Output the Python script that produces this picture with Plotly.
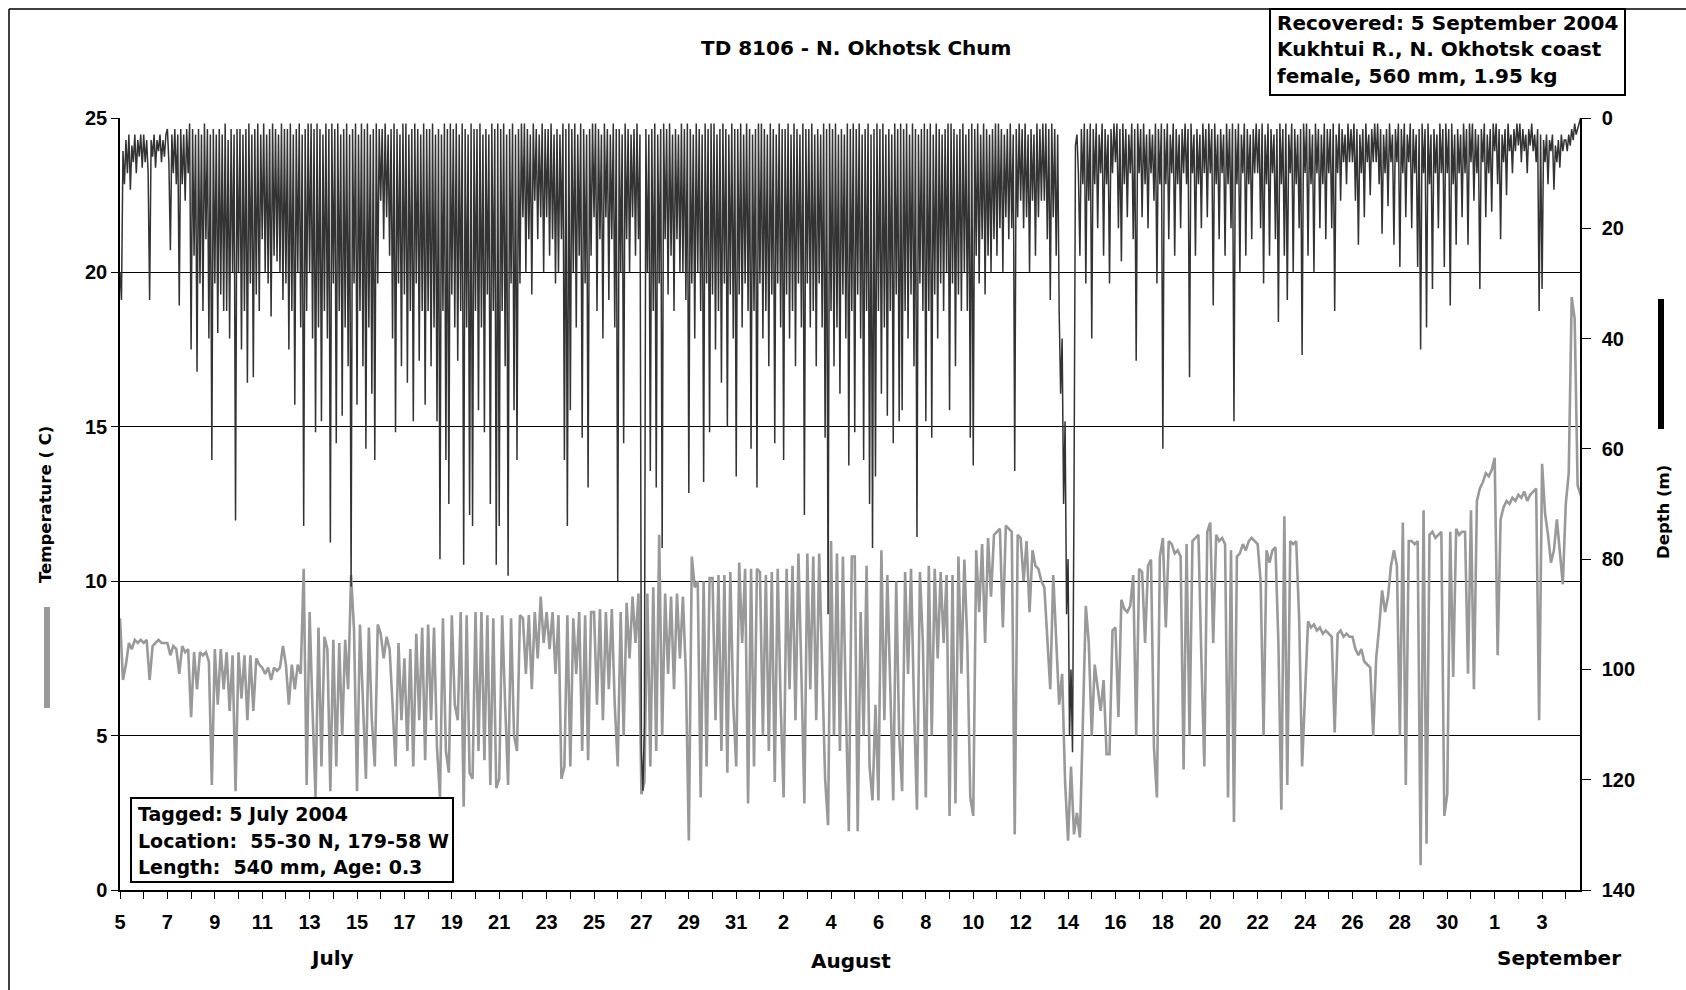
import plotly.graph_objects as go

# ---------------- data (day 0 = 5 July 2004) -------------
DEPTH_PER_DAY = 16   # 90-min readings
TEMP_PER_DAY = 8     # 3-h readings

depth_july = [  # metres, 5..31 July
    28, 33, 6, 12, 4, 10, 3, 13, 5, 8, 3, 10, 4, 7, 3, 9,
    3, 8, 4, 10, 33, 4, 7, 3, 9, 4, 6, 3, 8, 4, 7, 3,
    2, 8, 24, 3, 10, 2, 12, 3, 34, 2, 12, 3, 15, 2, 10, 1,
    42, 2, 25, 3, 46, 2, 30, 3, 35, 1, 22, 2, 40, 3, 62, 2,
    30, 3, 39, 2, 32, 3, 35, 1, 35, 4, 40, 2, 28, 3, 73, 2,
    28, 2, 42, 3, 35, 2, 48, 1, 30, 3, 47, 2, 32, 1, 35, 3,
    22, 1, 28, 3, 30, 2, 36, 1, 25, 2, 26, 3, 28, 1, 33, 2,
    30, 2, 42, 1, 35, 3, 52, 2, 28, 1, 38, 3, 74, 2, 35, 1,
    28, 1, 40, 2, 57, 1, 38, 2, 55, 3, 35, 1, 40, 2, 77, 1,
    30, 2, 59, 1, 35, 3, 54, 2, 38, 1, 45, 3, 85, 2, 30, 1,
    52, 3, 35, 1, 45, 2, 60, 1, 38, 3, 50, 2, 62, 1, 30, 2,
    15, 2, 22, 1, 18, 3, 25, 2, 40, 1, 57, 2, 30, 3, 45, 1,
    32, 1, 48, 3, 35, 2, 55, 1, 30, 2, 44, 3, 35, 1, 52, 2,
    35, 2, 45, 1, 38, 3, 55, 2, 80, 3, 35, 1, 62, 2, 70, 1,
    32, 2, 38, 1, 44, 3, 35, 1, 81, 2, 38, 3, 72, 1, 74, 2,
    35, 2, 53, 1, 38, 3, 57, 2, 32, 3, 70, 1, 35, 2, 81, 1,
    74, 2, 35, 1, 45, 3, 83, 2, 30, 1, 53, 3, 62, 2, 30, 1,
    18, 1, 28, 2, 22, 3, 32, 1, 15, 2, 22, 3, 18, 1, 28, 2,
    18, 2, 25, 1, 22, 3, 30, 2, 28, 3, 22, 1, 62, 2, 74, 1,
    53, 2, 28, 1, 38, 3, 25, 1, 58, 2, 30, 3, 67, 2, 25, 1,
    18, 1, 35, 2, 22, 3, 40, 1, 18, 2, 33, 3, 22, 1, 38, 2,
    84, 2, 28, 3, 59, 1, 22, 2, 28, 3, 18, 2, 25, 1, 22, 3,
    115, 122, 110, 2, 28, 3, 64, 2, 35, 1, 67, 3, 30, 2, 78, 1,
    22, 2, 32, 1, 25, 3, 35, 2, 22, 3, 28, 1, 28, 2, 33, 1,
    68, 2, 30, 3, 40, 1, 28, 2, 35, 3, 66, 1, 30, 2, 57, 1,
    32, 1, 42, 3, 35, 2, 48, 1, 30, 2, 56, 3, 32, 1, 40, 2,
    65, 2, 32, 1, 38, 3, 30, 1, 35, 2, 60, 3, 35, 2, 67, 1,
]
depth_august = [  # metres, 1..31 August
    30, 1, 40, 2, 35, 3, 45, 1, 32, 2, 59, 3, 30, 1, 38, 2,
    62, 2, 32, 1, 40, 3, 35, 1, 45, 2, 30, 3, 38, 1, 72, 2,
    30, 2, 38, 1, 35, 3, 45, 2, 30, 3, 38, 1, 58, 2, 90, 1,
    35, 2, 45, 1, 38, 3, 50, 2, 32, 3, 40, 1, 63, 2, 35, 1,
    57, 2, 32, 1, 40, 3, 62, 2, 35, 1, 70, 3, 78, 2, 65, 1,
    35, 2, 50, 1, 38, 3, 54, 2, 35, 3, 59, 1, 32, 2, 55, 1,
    53, 2, 35, 1, 40, 3, 32, 1, 45, 2, 76, 3, 30, 2, 35, 1,
    55, 2, 35, 1, 58, 3, 32, 1, 40, 2, 30, 3, 35, 2, 28, 1,
    53, 1, 30, 2, 45, 3, 32, 2, 35, 1, 28, 3, 35, 2, 58, 1,
    63, 2, 25, 1, 30, 3, 22, 1, 32, 2, 25, 3, 28, 2, 22, 1,
    25, 1, 20, 2, 28, 3, 18, 2, 22, 1, 20, 3, 64, 2, 18, 1,
    15, 2, 20, 1, 18, 3, 28, 2, 15, 3, 25, 1, 18, 2, 15, 1,
    15, 1, 22, 2, 33, 1, 18, 2, 25, 3, 35, 50, 40, 70, 55, 90,
    80, 112, 100, 115, 70, 5, 3, 10, 25, 2, 12, 1, 30, 2, 15, 1,
    40, 2, 12, 1, 20, 3, 10, 1, 25, 2, 12, 3, 30, 2, 10, 1,
    8, 1, 20, 2, 26, 1, 12, 2, 18, 3, 10, 1, 22, 2, 44, 1,
    10, 2, 18, 1, 12, 3, 20, 2, 10, 3, 15, 1, 30, 2, 12, 1,
    60, 2, 12, 1, 22, 3, 10, 1, 25, 2, 12, 3, 20, 2, 10, 1,
    12, 2, 47, 1, 10, 3, 25, 2, 12, 3, 20, 1, 10, 2, 18, 1,
    10, 2, 34, 1, 12, 3, 22, 2, 10, 3, 25, 1, 12, 2, 20, 1,
    55, 2, 12, 1, 28, 3, 10, 1, 25, 2, 12, 3, 22, 2, 10, 1,
    10, 2, 20, 1, 30, 3, 12, 1, 25, 2, 10, 3, 22, 2, 37, 1,
    12, 2, 25, 1, 33, 3, 10, 1, 28, 2, 12, 3, 20, 2, 43, 1,
    10, 1, 25, 2, 12, 3, 28, 1, 10, 2, 20, 3, 12, 1, 22, 2,
    10, 2, 20, 1, 35, 3, 10, 1, 15, 2, 8, 3, 12, 1, 8, 2,
    8, 1, 15, 2, 23, 3, 10, 2, 18, 1, 8, 3, 14, 2, 8, 1,
    8, 1, 12, 2, 21, 3, 10, 2, 16, 1, 8, 3, 23, 2, 8, 1,
    27, 2, 10, 1, 18, 3, 8, 1, 20, 2, 10, 3, 27, 2, 42, 1,
    10, 2, 38, 1, 12, 3, 31, 2, 10, 3, 20, 1, 10, 2, 27, 1,
    10, 2, 34, 1, 12, 3, 23, 2, 10, 3, 18, 1, 10, 2, 23, 1,
    8, 1, 15, 2, 10, 3, 31, 2, 8, 1, 18, 3, 10, 2, 17, 1,
]
depth_september = [  # metres, 1..4 September
    6, 1, 12, 2, 22, 3, 8, 2, 14, 1, 6, 3, 10, 2, 6, 1,
    5, 1, 8, 2, 6, 3, 10, 2, 5, 1, 6, 3, 8, 2, 35, 3,
    31, 4, 8, 3, 12, 4, 6, 3, 13, 5, 8, 4, 9, 3, 6, 4,
    4, 6, 3, 5, 2, 4, 1, 3, 2, 1, 0, 1, 0, 0, 0, 0,
]

temp_july = [  # deg C
    8.8, 6.8, 7.3, 8.0, 7.8, 8.1, 8.0, 8.1,
    8.0, 8.1, 6.8, 7.9, 8.0, 8.1, 8.0, 8.0,
    8.0, 7.6, 7.9, 7.8, 7.0, 7.9, 7.7, 7.8,
    5.6, 7.7, 6.5, 7.7, 7.6, 7.7, 7.4, 3.4,
    7.8, 6.0, 7.8, 6.5, 7.7, 5.8, 7.6, 3.2,
    7.7, 6.2, 7.6, 5.5, 7.6, 5.8, 7.5, 7.3,
    7.2, 7.0, 7.2, 6.8, 7.2, 7.1, 7.2, 7.9,
    7.3, 6.0, 7.3, 6.5, 7.3, 7.0, 10.4, 3.4,
    9.0, 5.8, 3.0, 8.5, 4.0, 8.2, 7.8, 3.2,
    8.1, 4.0, 8.0, 5.0, 8.1, 6.5, 10.2, 8.4,
    3.2, 8.6, 6.0, 3.6, 8.5, 5.5, 4.0, 8.6,
    8.3, 7.5, 8.2, 7.8, 6.0, 4.0, 8.0, 5.5,
    7.5, 4.5, 7.8, 4.0, 8.3, 5.5, 8.5, 4.2,
    8.6, 5.5, 8.5, 4.6, 3.0, 8.8, 4.5, 3.8,
    8.9, 6.0, 5.5, 9.0, 2.7, 8.9, 3.8, 3.6,
    9.0, 4.5, 9.0, 4.2, 8.9, 3.4, 8.8, 3.3,
    3.6, 8.9, 6.0, 3.4, 8.8, 5.0, 4.5, 8.9,
    8.8, 7.0, 8.9, 6.5, 9.0, 7.5, 9.5, 8.0,
    9.0, 7.8, 9.0, 7.0, 8.9, 3.6, 4.0, 8.9,
    4.0, 8.8, 7.0, 9.0, 4.5, 8.9, 4.2, 9.0,
    9.0, 6.0, 9.1, 5.5, 9.0, 6.5, 9.1, 6.0,
    4.0, 9.0, 5.0, 9.3, 7.5, 9.5, 8.0, 9.6,
    3.1, 3.5, 9.6, 4.0, 9.8, 4.5, 11.5, 5.0,
    9.6, 7.0, 9.5, 6.5, 9.6, 7.5, 9.5, 7.0,
    1.6, 10.8, 9.8, 10.0, 3.0, 10.0, 4.0, 10.1,
    10.1, 5.5, 10.2, 4.5, 10.2, 3.8, 10.3, 6.0,
    4.0, 10.6, 8.0, 10.4, 2.8, 10.4, 4.0, 10.4,
]
temp_august = [
    10.3, 5.0, 10.2, 4.5, 10.3, 3.5, 10.4, 6.0,
    3.0, 10.4, 6.5, 10.5, 5.5, 10.9, 7.0, 2.8,
    10.9, 6.5, 10.8, 5.5, 10.9, 7.0, 3.6, 2.1,
    11.3, 5.0, 10.9, 4.5, 10.8, 6.0, 1.9, 10.8,
    10.8, 1.9, 9.0, 5.0, 10.5, 4.0, 2.9, 6.0,
    2.9, 11.0, 5.5, 10.2, 6.5, 2.9, 10.0, 5.0,
    3.2, 10.3, 7.0, 10.4, 6.0, 2.6, 10.3, 8.0,
    3.0, 10.5, 5.0, 10.4, 7.5, 10.3, 8.0, 10.2,
    2.4, 10.2, 2.8, 10.8, 7.0, 10.7, 8.0, 3.0,
    2.4, 11.0, 9.0, 11.2, 8.0, 11.4, 9.5, 11.5,
    11.6, 11.7, 8.5, 11.8, 11.7, 11.6, 1.8, 11.5,
    11.4, 10.0, 11.3, 9.0, 11.0, 10.5, 10.4, 10.0,
    9.8, 8.0, 6.5, 10.2, 8.0, 6.0, 7.0, 3.5,
    1.6, 4.0, 1.8, 2.5, 1.7, 6.0, 9.2, 8.0,
    5.0, 7.3, 6.5, 5.8, 6.8, 4.4, 4.4, 8.4,
    8.5, 5.6, 9.4, 9.1, 9.0, 9.2, 10.2, 5.0,
    10.4, 10.3, 8.0, 10.5, 10.7, 4.6, 3.0, 10.8,
    11.4, 8.5, 11.3, 11.2, 10.9, 11.0, 10.8, 3.9,
    11.2, 5.0, 11.3, 11.4, 11.5, 7.5, 4.0, 11.6,
    11.9, 8.0, 11.5, 11.3, 11.4, 11.2, 3.0, 11.0,
    2.2, 10.8, 10.9, 11.2, 11.0, 11.3, 11.4, 11.3,
    11.2, 10.0, 5.0, 11.0, 10.6, 11.0, 11.1, 8.0,
    2.6, 12.1, 3.4, 11.3, 11.2, 11.3, 8.8, 4.0,
    6.2, 8.7, 8.5, 8.6, 8.4, 8.5, 8.3, 8.4,
    8.3, 8.2, 5.1, 8.3, 8.4, 8.2, 8.3, 8.2,
    8.2, 7.8, 7.6, 7.8, 7.4, 7.3, 7.2, 5.0,
    7.5, 8.5, 9.7, 9.0, 9.5, 10.5, 11.0, 10.5,
    5.0, 11.9, 3.4, 11.3, 11.3, 11.2, 11.3, 0.8,
    12.3, 1.5, 11.5, 11.6, 11.4, 11.5, 11.6, 2.4,
    3.1, 11.6, 6.9, 11.7, 11.5, 11.6, 11.6, 7.0,
    12.3, 6.5, 12.6, 13.0, 13.2, 13.5, 13.4, 13.6,
]
temp_september = [
    14.0, 7.6, 12.0, 12.4, 12.6, 12.5, 12.7, 12.6,
    12.8, 12.7, 12.9, 12.6, 12.8, 12.9, 13.0, 5.5,
    13.8, 12.2, 11.5, 10.6, 11.0, 12.0, 10.8, 9.9,
    12.5, 13.5, 19.2, 18.5, 13.1, 12.8, 12.4, 12.0,
]

day_of_month = (list(range(5, 32)) + list(range(1, 32)) + list(range(1, 5)))
month_names = ["July", "August", "September"]

title_text = "TD 8106 - N. Okhotsk Chum"
recovered_lines = ["Recovered: 5 September 2004", "Kukhtui R., N. Okhotsk coast",
                   "female, 560 mm, 1.95 kg"]
tagged_lines = ["Tagged: 5 July 2004", "Location:  55-30 N, 179-58 W",
                "Length:  540 mm, Age: 0.3"]

# ---------------- build -----------------
depth = depth_july + depth_august + depth_september
temp = temp_july + temp_august + temp_september
t_depth = [i / DEPTH_PER_DAY for i in range(len(depth))]
t_temp = [i / TEMP_PER_DAY for i in range(len(temp))]

W, H = 1686, 990
L, R, T, B = 120, 1580, 118, 890   # plot area in px
PW, PH = R - L, B - T
XMAX = 61.6

def xp(px):
    return (px - L) / PW

def yp(py):
    return (B - py) / PH

FONT = "Arial, Liberation Sans, sans-serif"
WIDE = "DejaVu Sans, Verdana, sans-serif"
DARK = "#333333"
GREY = "#999999"

fig = go.Figure()
fig.add_trace(go.Scatter(x=t_temp, y=temp, mode="lines", yaxis="y",
                         line=dict(color=GREY, width=2.6), showlegend=False,
                         hoverinfo="skip"))
fig.add_trace(go.Scatter(x=t_depth, y=depth, mode="lines", yaxis="y2",
                         line=dict(color=DARK, width=1.5), showlegend=False,
                         hoverinfo="skip"))

tickvals = list(range(len(day_of_month)))
ticktext = [f"<b>{d}</b>" if i % 2 == 0 else "" for i, d in enumerate(day_of_month)]

fig.update_layout(
    width=W, height=H,
    margin=dict(l=L, r=W - R, t=T, b=H - B),
    paper_bgcolor="white", plot_bgcolor="white",
    font=dict(family=FONT, color="black", size=19),
    xaxis=dict(range=[0, XMAX], tickvals=tickvals, ticktext=ticktext,
               ticks="outside", ticklen=7, tickcolor="black", tickwidth=1,
               showline=True, linecolor="black", linewidth=1.5, mirror=False,
               showgrid=False, zeroline=False, tickfont=dict(size=20),
               ticklabelstandoff=6),
    yaxis=dict(range=[0, 25], tickvals=[0, 5, 10, 15, 20, 25],
               ticktext=["<b>%d</b>" % v for v in [0, 5, 10, 15, 20, 25]],
               ticks="outside", ticklen=7, tickcolor="black",
               showline=True, linecolor="black", linewidth=1.5,
               showgrid=True, gridcolor="black", gridwidth=1, zeroline=False,
               tickfont=dict(size=20)),
    yaxis2=dict(range=[140, 0], overlaying="y", side="right", anchor="x",
                tickvals=[0, 20, 40, 60, 80, 100, 120, 140],
                ticktext=["<b>%d</b>" % v for v in [0, 20, 40, 60, 80, 100, 120, 140]],
                ticks="outside", ticklen=9, tickcolor="black",
                showline=True, linecolor="black", linewidth=1.5,
                showgrid=False, zeroline=False, tickfont=dict(size=20),
                ticklabelstandoff=7),
    yaxis3=dict(range=[140, 0], overlaying="y", side="right", anchor="x",
                tickvals=[0, 20, 40, 60, 80, 100, 120, 140],
                ticks="inside", ticklen=9, tickcolor="black",
                showticklabels=False, showline=False, showgrid=False,
                zeroline=False),
)

shapes = []
# outer frame (only top and left edges fall inside the picture)
shapes.append(dict(type="line", xref="paper", yref="paper",
                   x0=xp(9), x1=xp(1690), y0=yp(9), y1=yp(9),
                   line=dict(color="black", width=1.5)))
shapes.append(dict(type="line", xref="paper", yref="paper",
                   x0=xp(9), x1=xp(9), y0=yp(9), y1=yp(995),
                   line=dict(color="black", width=1.5)))
# recovered box
shapes.append(dict(type="rect", xref="paper", yref="paper",
                   x0=xp(1270), x1=xp(1625), y0=yp(9), y1=yp(95),
                   line=dict(color="black", width=2), fillcolor="white"))
# tagged box
shapes.append(dict(type="rect", xref="paper", yref="paper",
                   x0=xp(131), x1=xp(453), y0=yp(798), y1=yp(882),
                   line=dict(color="black", width=2), fillcolor="white"))
# legend bars
shapes.append(dict(type="line", xref="paper", yref="paper",
                   x0=xp(47), x1=xp(47), y0=yp(607), y1=yp(708),
                   line=dict(color=GREY, width=6)))
shapes.append(dict(type="line", xref="paper", yref="paper",
                   x0=xp(1661), x1=xp(1661), y0=yp(299), y1=yp(429),
                   line=dict(color="black", width=6)))
fig.update_layout(shapes=shapes)

ann = []
ann.append(dict(text=f"<b>{title_text}</b>", xref="paper", yref="paper",
                x=xp(856), y=yp(48), showarrow=False, font=dict(family=WIDE, size=20),
                xanchor="center", yanchor="middle"))
for i, line in enumerate(recovered_lines):
    ann.append(dict(text=f"<b>{line}</b>", xref="paper", yref="paper",
                    x=xp(1275), y=yp(23 + i * 26.5), showarrow=False,
                    font=dict(family=WIDE, size=20), xanchor="left", yanchor="middle"))
for i, line in enumerate(tagged_lines):
    ann.append(dict(text=f"<b>{line}</b>", xref="paper", yref="paper",
                    x=xp(136), y=yp(814 + i * 26.5), showarrow=False,
                    font=dict(family=WIDE, size=19), xanchor="left", yanchor="middle"))
ann.append(dict(text="<b>Temperature ( C)</b>", xref="paper", yref="paper",
                x=xp(45), y=yp(505), showarrow=False, textangle=-90,
                font=dict(family=WIDE, size=16.5), xanchor="center", yanchor="middle"))
ann.append(dict(text="<b>Depth (m)</b>", xref="paper", yref="paper",
                x=xp(1663), y=yp(512), showarrow=False, textangle=-90,
                font=dict(family=WIDE, size=16.5), xanchor="center", yanchor="middle"))
month_pos = [(332, 958), (851, 961), (1559, 958)]
for name, (mx, my) in zip(month_names, month_pos):
    ann.append(dict(text=f"<b>{name}</b>", xref="paper", yref="paper",
                    x=xp(mx), y=yp(my), showarrow=False, font=dict(family=WIDE, size=20),
                    xanchor="center", yanchor="middle"))
fig.update_layout(annotations=ann)

fig.write_html("out.html")
